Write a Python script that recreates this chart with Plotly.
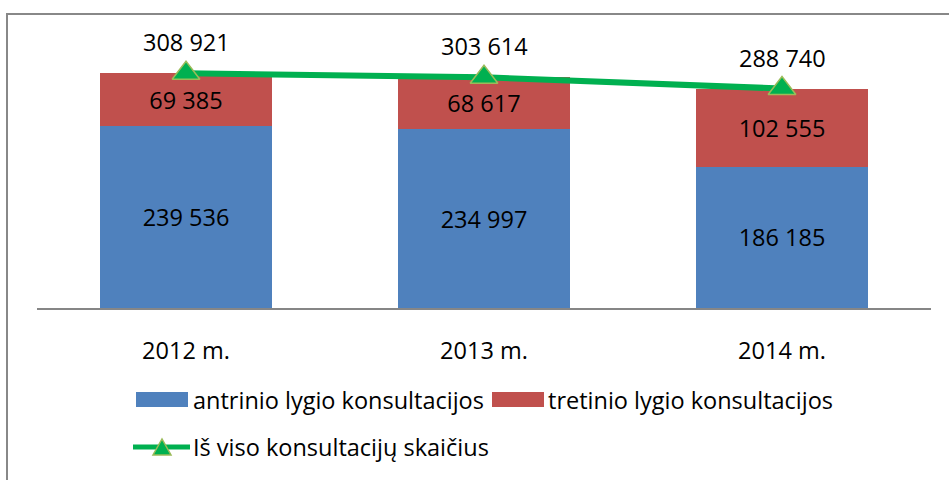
import plotly.graph_objects as go

categories = ["2012 m.", "2013 m.", "2014 m."]
antrinio = [239536, 234997, 186185]
tretinio = [69385, 68617, 102555]
is_viso = [308921, 303614, 288740]

series_names = ["antrinio lygio konsultacijos", "tretinio lygio konsultacijos",
                "Iš viso konsultacijų skaičius"]

BLUE = "#4F81BD"
RED = "#C0504D"
GREEN = "#00B050"
GREEN_EDGE = "#9BBB59"
FONT = "Open Sans"
FS = 23.5

def fmt(v):
    return f"{v:,}".replace(",", " ")

W, H = 949, 480
ML, MR, MT, MB = 37, 18, 42, 172
PW, PH = W - ML - MR, H - MT - MB

def px(x):
    return (x - ML) / PW

def py(y):
    return (H - MB - y) / PH

fig = go.Figure()
fig.add_trace(go.Bar(
    x=categories, y=antrinio, name=series_names[0], marker_color=BLUE,
    marker_line_width=0,
    text=[fmt(v) for v in antrinio], textposition="inside",
    insidetextanchor="middle", textangle=0, constraintext="none",
    textfont=dict(family=FONT, size=FS, color="black"), showlegend=False))
fig.add_trace(go.Bar(
    x=categories, y=tretinio, name=series_names[1], marker_color=RED,
    marker_line_width=0,
    text=[fmt(v) for v in tretinio], textposition="inside",
    insidetextanchor="middle", textangle=0, constraintext="none",
    textfont=dict(family=FONT, size=FS, color="black"), showlegend=False))
fig.add_trace(go.Scatter(
    x=categories, y=is_viso, name=series_names[2], mode="lines+markers",
    line=dict(color=GREEN, width=6),
    marker=dict(symbol="triangle-up", size=24, color=GREEN,
                line=dict(color=GREEN_EDGE, width=1.5)),
    showlegend=False))

annotations = []
for c, v in zip(categories, is_viso):
    annotations.append(dict(x=c, y=v, text=fmt(v), showarrow=False,
                            yshift=31, yanchor="middle", xanchor="center",
                            font=dict(family=FONT, size=FS, color="black")))

# manual legend
shapes = []
shapes.append(dict(type="rect", xref="paper", yref="paper",
                   x0=px(7), x1=px(970), y0=py(14), y1=py(500),
                   line=dict(color="#888888", width=2), fillcolor="rgba(0,0,0,0)",
                   layer="below"))
for (x0, x1, col) in [(136, 188, BLUE), (492, 544, RED)]:
    shapes.append(dict(type="rect", xref="paper", yref="paper",
                       x0=px(x0), x1=px(x1), y0=py(392), y1=py(407),
                       line=dict(width=0), fillcolor=col))
shapes.append(dict(type="line", xref="paper", yref="paper",
                   x0=px(133), x1=px(190), y0=py(447), y1=py(447),
                   line=dict(color=GREEN, width=5)))
tri = (f"M {px(153)} {py(455)} L {px(171)} {py(455)} L {px(162)} {py(439)} Z")
shapes.append(dict(type="path", xref="paper", yref="paper", path=tri,
                   fillcolor=GREEN, line=dict(color=GREEN_EDGE, width=1.5)))

for (x, y, t) in [(191, 399.5, series_names[0]), (546, 399.5, series_names[1]),
                  (191, 447, series_names[2])]:
    annotations.append(dict(xref="paper", yref="paper", x=px(x), y=py(y),
                            text=t, showarrow=False, xanchor="left",
                            yanchor="middle",
                            font=dict(family=FONT, size=FS, color="black")))

fig.update_layout(
    width=W, height=H, barmode="stack", bargap=0.426,
    margin=dict(l=ML, r=MR, t=MT, b=MB, pad=0),
    paper_bgcolor="white", plot_bgcolor="white",
    font=dict(family=FONT, size=FS, color="black"),
    shapes=shapes, annotations=annotations,
    xaxis=dict(showline=True, linecolor="#868686", linewidth=2, ticks="",
               showgrid=False, ticklabelstandoff=21,
               tickfont=dict(family=FONT, size=FS, color="black")),
    yaxis=dict(range=[0, 350000], visible=False, showgrid=False),
)

fig.write_html("out.html", config={"displayModeBar": False},
               post_script="document.body.style.margin='0';document.body.style.overflow='hidden';")
